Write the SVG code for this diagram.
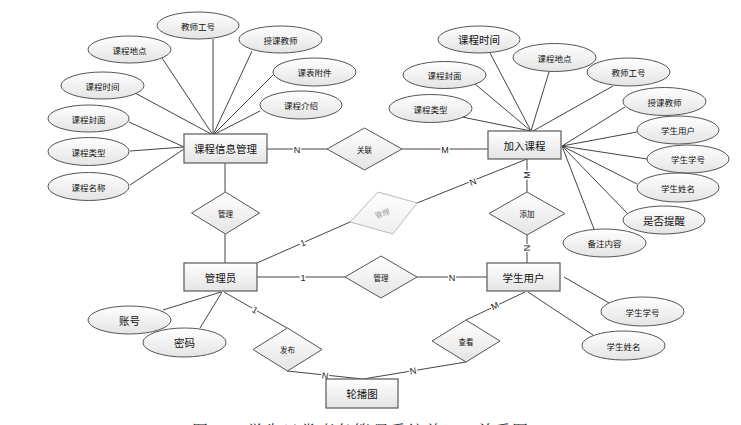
<svg xmlns="http://www.w3.org/2000/svg" width="741" height="425" viewBox="0 0 741 425">
<defs>
<linearGradient id="g" x1="0" y1="0" x2="0" y2="1"><stop offset="0" stop-color="#ffffff"/><stop offset="1" stop-color="#e4e4e4"/></linearGradient>
<linearGradient id="g2" x1="0" y1="0" x2="0" y2="1"><stop offset="0" stop-color="#ffffff"/><stop offset="1" stop-color="#eeeeee"/></linearGradient>
<style>
.r{fill:url(#g);stroke:#666;stroke-width:1.3}
.e{fill:url(#g);stroke:#555;stroke-width:1}
.d{fill:url(#g);stroke:#555;stroke-width:1}
.t{font-family:"Noto Sans CJK SC","Liberation Sans",sans-serif;fill:#111;text-anchor:middle;dominant-baseline:central}
.big{font-size:10.5px}
.sm{font-size:8.5px}
.xs{font-size:7.5px}
.c line,.c polyline{stroke:#444;stroke-width:1;fill:none}
.lb{font-family:"Liberation Sans",sans-serif;font-size:9px;fill:#222;text-anchor:middle;dominant-baseline:central;stroke:#fff;stroke-width:3;paint-order:stroke}
.cap{font-family:"Noto Serif CJK SC","Noto Sans CJK SC",serif;font-size:16px;fill:#222}
</style>
</defs>
<rect width="741" height="425" fill="#fff"/>
<g id="connectors" class="c">
<line x1="213" y1="135" x2="213" y2="39"/>
<line x1="213" y1="135" x2="162" y2="58"/>
<line x1="213" y1="135" x2="252" y2="51"/>
<line x1="213" y1="135" x2="135" y2="93"/>
<line x1="213" y1="135" x2="273" y2="75"/>
<line x1="213" y1="135" x2="260" y2="111"/>
<line x1="184" y1="147" x2="129" y2="122"/>
<line x1="184" y1="147" x2="130" y2="151"/>
<line x1="184" y1="149" x2="130" y2="185"/>
<line x1="267" y1="149" x2="327" y2="149"/>
<line x1="402" y1="149" x2="488" y2="149"/>
<line x1="531" y1="131" x2="490" y2="53"/>
<line x1="531" y1="131" x2="475" y2="84"/>
<line x1="531" y1="131" x2="462" y2="117"/>
<line x1="531" y1="131" x2="549" y2="72"/>
<line x1="533" y1="131" x2="613" y2="86"/>
<line x1="562" y1="146" x2="625" y2="107"/>
<line x1="562" y1="146" x2="637" y2="132"/>
<line x1="562" y1="146" x2="647" y2="159"/>
<line x1="562" y1="146" x2="637" y2="184"/>
<line x1="562" y1="146" x2="627" y2="213"/>
<line x1="562" y1="146" x2="594" y2="229"/>
<line x1="527" y1="159" x2="527" y2="192"/>
<line x1="527" y1="235" x2="527" y2="263"/>
<line x1="225" y1="163" x2="225" y2="192"/>
<line x1="225" y1="234" x2="225" y2="263"/>
<line x1="257" y1="263" x2="350" y2="222"/>
<line x1="417" y1="203" x2="527" y2="159"/>
<line x1="257" y1="277" x2="345" y2="277"/>
<line x1="417" y1="277" x2="487" y2="277"/>
<line x1="221" y1="292" x2="163" y2="310"/>
<line x1="222" y1="292" x2="200" y2="328"/>
<line x1="224" y1="292" x2="287" y2="328"/>
<polyline points="287,371 363,379 466,362"/>
<line x1="466" y1="320" x2="525" y2="292"/>
<line x1="564" y1="277" x2="609" y2="303"/>
<line x1="528" y1="292" x2="593" y2="335"/>
</g>
<g id="labels">
<text class="lb" x="297" y="150">N</text>
<text class="lb" x="445" y="150">M</text>
<text class="lb" transform="translate(527,175) rotate(-90)">M</text>
<text class="lb" transform="translate(527,248) rotate(-90)">N</text>
<text class="lb" transform="translate(303,243) rotate(-23)">1</text>
<text class="lb" transform="translate(473,182) rotate(-21)">N</text>
<text class="lb" x="303" y="278">1</text>
<text class="lb" x="452" y="278">N</text>
<text class="lb" transform="translate(255,310) rotate(29)">1</text>
<text class="lb" transform="translate(495,306) rotate(-25)">M</text>
<text class="lb" transform="translate(325,376) rotate(7)">N</text>
<text class="lb" transform="translate(413,371) rotate(-9)">N</text>
</g>
<g id="n-kcxxgl"><rect class="r" x="184" y="134" width="83" height="29"/><text class="t big" x="225.5" y="148.5">课程信息管理</text></g>
<g id="n-jrkc"><rect class="r" x="488" y="131" width="73" height="28"/><text class="t big" x="524.5" y="145">加入课程</text></g>
<g id="n-xsyh"><rect class="r" x="487" y="263" width="73" height="28"/><text class="t big" x="523.5" y="277">学生用户</text></g>
<g id="n-gly"><rect class="r" x="184" y="263" width="73" height="28"/><text class="t big" x="220.5" y="277">管理员</text></g>
<g id="n-lbt"><rect class="r" x="326" y="379" width="72" height="29"/><text class="t big" x="362" y="393.5">轮播图</text></g>
<g id="d-gl"><polygon class="d" points="364.5,128 402,149 364.5,170 327,149"/><text class="t xs" x="364.5" y="149">关联</text></g>
<g id="d-gl1"><polygon class="d" points="225.5,192 259.5,213 225.5,234 191.5,213"/><text class="t xs" x="225.5" y="213">管理</text></g>
<g id="d-gl2"><polygon class="d" points="381,256 417,277 381,298 345,277"/><text class="t xs" x="381" y="277">管理</text></g>
<g id="d-gl3"><polygon points="378,192 417,203 393,234 350,222" fill="url(#g2)" stroke="#bbb" stroke-width="1"/><text transform="translate(382,213) rotate(-20)" style="font-family:'Noto Serif CJK SC','Noto Sans CJK SC',serif;font-size:7.5px;fill:#777;text-anchor:middle;dominant-baseline:central">管理</text></g>
<g id="d-tj"><polygon class="d" points="527,192 565,213.5 527,235 489,213.5"/><text class="t xs" x="527" y="213.5">添加</text></g>
<g id="d-fb"><polygon class="d" points="287.5,328 322,349.5 287.5,371 253,349.5"/><text class="t xs" x="287.5" y="349.5">发布</text></g>
<g id="d-ck"><polygon class="d" points="466,320 500,341 466,362 432,341"/><text class="t xs" x="466" y="341">查看</text></g>
<g id="a-left">
<ellipse class="e" cx="198" cy="25.5" rx="41" ry="13.5"/><text class="t sm" x="198" y="25.5">教师工号</text>
<ellipse class="e" cx="129.5" cy="49.5" rx="41.5" ry="13.5"/><text class="t sm" x="129.5" y="49.5">课程地点</text>
<ellipse class="e" cx="280.5" cy="39.5" rx="41.5" ry="13.5"/><text class="t sm" x="280.5" y="39.5">授课教师</text>
<ellipse class="e" cx="102.5" cy="85.5" rx="41.5" ry="13.5"/><text class="t sm" x="102.5" y="85.5">课程时间</text>
<ellipse class="e" cx="314.5" cy="72" rx="41.5" ry="14"/><text class="t sm" x="314.5" y="72">课表附件</text>
<ellipse class="e" cx="301" cy="105" rx="41" ry="14"/><text class="t sm" x="301" y="105">课程介绍</text>
<ellipse class="e" cx="88.5" cy="118.5" rx="40.5" ry="13.5"/><text class="t sm" x="88.5" y="118.5">课程封面</text>
<ellipse class="e" cx="88.5" cy="151.5" rx="40.5" ry="14"/><text class="t sm" x="88.5" y="151.5">课程类型</text>
<ellipse class="e" cx="88.5" cy="186.5" rx="40.5" ry="14"/><text class="t sm" x="88.5" y="186.5">课程名称</text>
</g>
<g id="a-right">
<ellipse class="e" cx="479" cy="39.5" rx="41" ry="13.5"/><text class="t big" x="479" y="39.5">课程时间</text>
<ellipse class="e" cx="554.5" cy="57.5" rx="41.5" ry="14"/><text class="t sm" x="554.5" y="57.5">课程地点</text>
<ellipse class="e" cx="444.5" cy="75" rx="41.5" ry="13.5"/><text class="t sm" x="444.5" y="75">课程封面</text>
<ellipse class="e" cx="628.5" cy="72" rx="41.5" ry="14"/><text class="t sm" x="628.5" y="72">教师工号</text>
<ellipse class="e" cx="430.5" cy="108.5" rx="41.5" ry="14"/><text class="t sm" x="430.5" y="108.5">课程类型</text>
<ellipse class="e" cx="664.5" cy="101.5" rx="41.5" ry="14"/><text class="t sm" x="664.5" y="101.5">授课教师</text>
<ellipse class="e" cx="678" cy="130" rx="41" ry="14"/><text class="t sm" x="678" y="130">学生用户</text>
<ellipse class="e" cx="688" cy="159" rx="41" ry="14"/><text class="t sm" x="688" y="159">学生学号</text>
<ellipse class="e" cx="678" cy="187.5" rx="41" ry="14.5"/><text class="t sm" x="678" y="187.5">学生姓名</text>
<ellipse class="e" cx="664" cy="220" rx="41" ry="14"/><text class="t big" x="664" y="220">是否提醒</text>
<ellipse class="e" cx="604.5" cy="243" rx="41.5" ry="14"/><text class="t sm" x="604.5" y="243">备注内容</text>
</g>
<g id="a-bottom">
<ellipse class="e" cx="129.5" cy="320" rx="41.5" ry="14"/><text class="t big" x="129.5" y="320">账号</text>
<ellipse class="e" cx="184.5" cy="342.5" rx="41.5" ry="14.5"/><text class="t big" x="184.5" y="342.5">密码</text>
<ellipse class="e" cx="642.5" cy="311.5" rx="41.5" ry="14.5"/><text class="t sm" x="642.5" y="311.5">学生学号</text>
<ellipse class="e" cx="623.5" cy="345.5" rx="41.5" ry="14.5"/><text class="t sm" x="623.5" y="345.5">学生姓名</text>
</g>
<text class="cap" y="437"><tspan x="192">图</tspan><tspan x="216">4-1</tspan><tspan x="247" letter-spacing="1.8">学生日常事务管理系统总</tspan><tspan x="448">E-R</tspan><tspan x="477" letter-spacing="1.5">关系图</tspan></text>
</svg>
